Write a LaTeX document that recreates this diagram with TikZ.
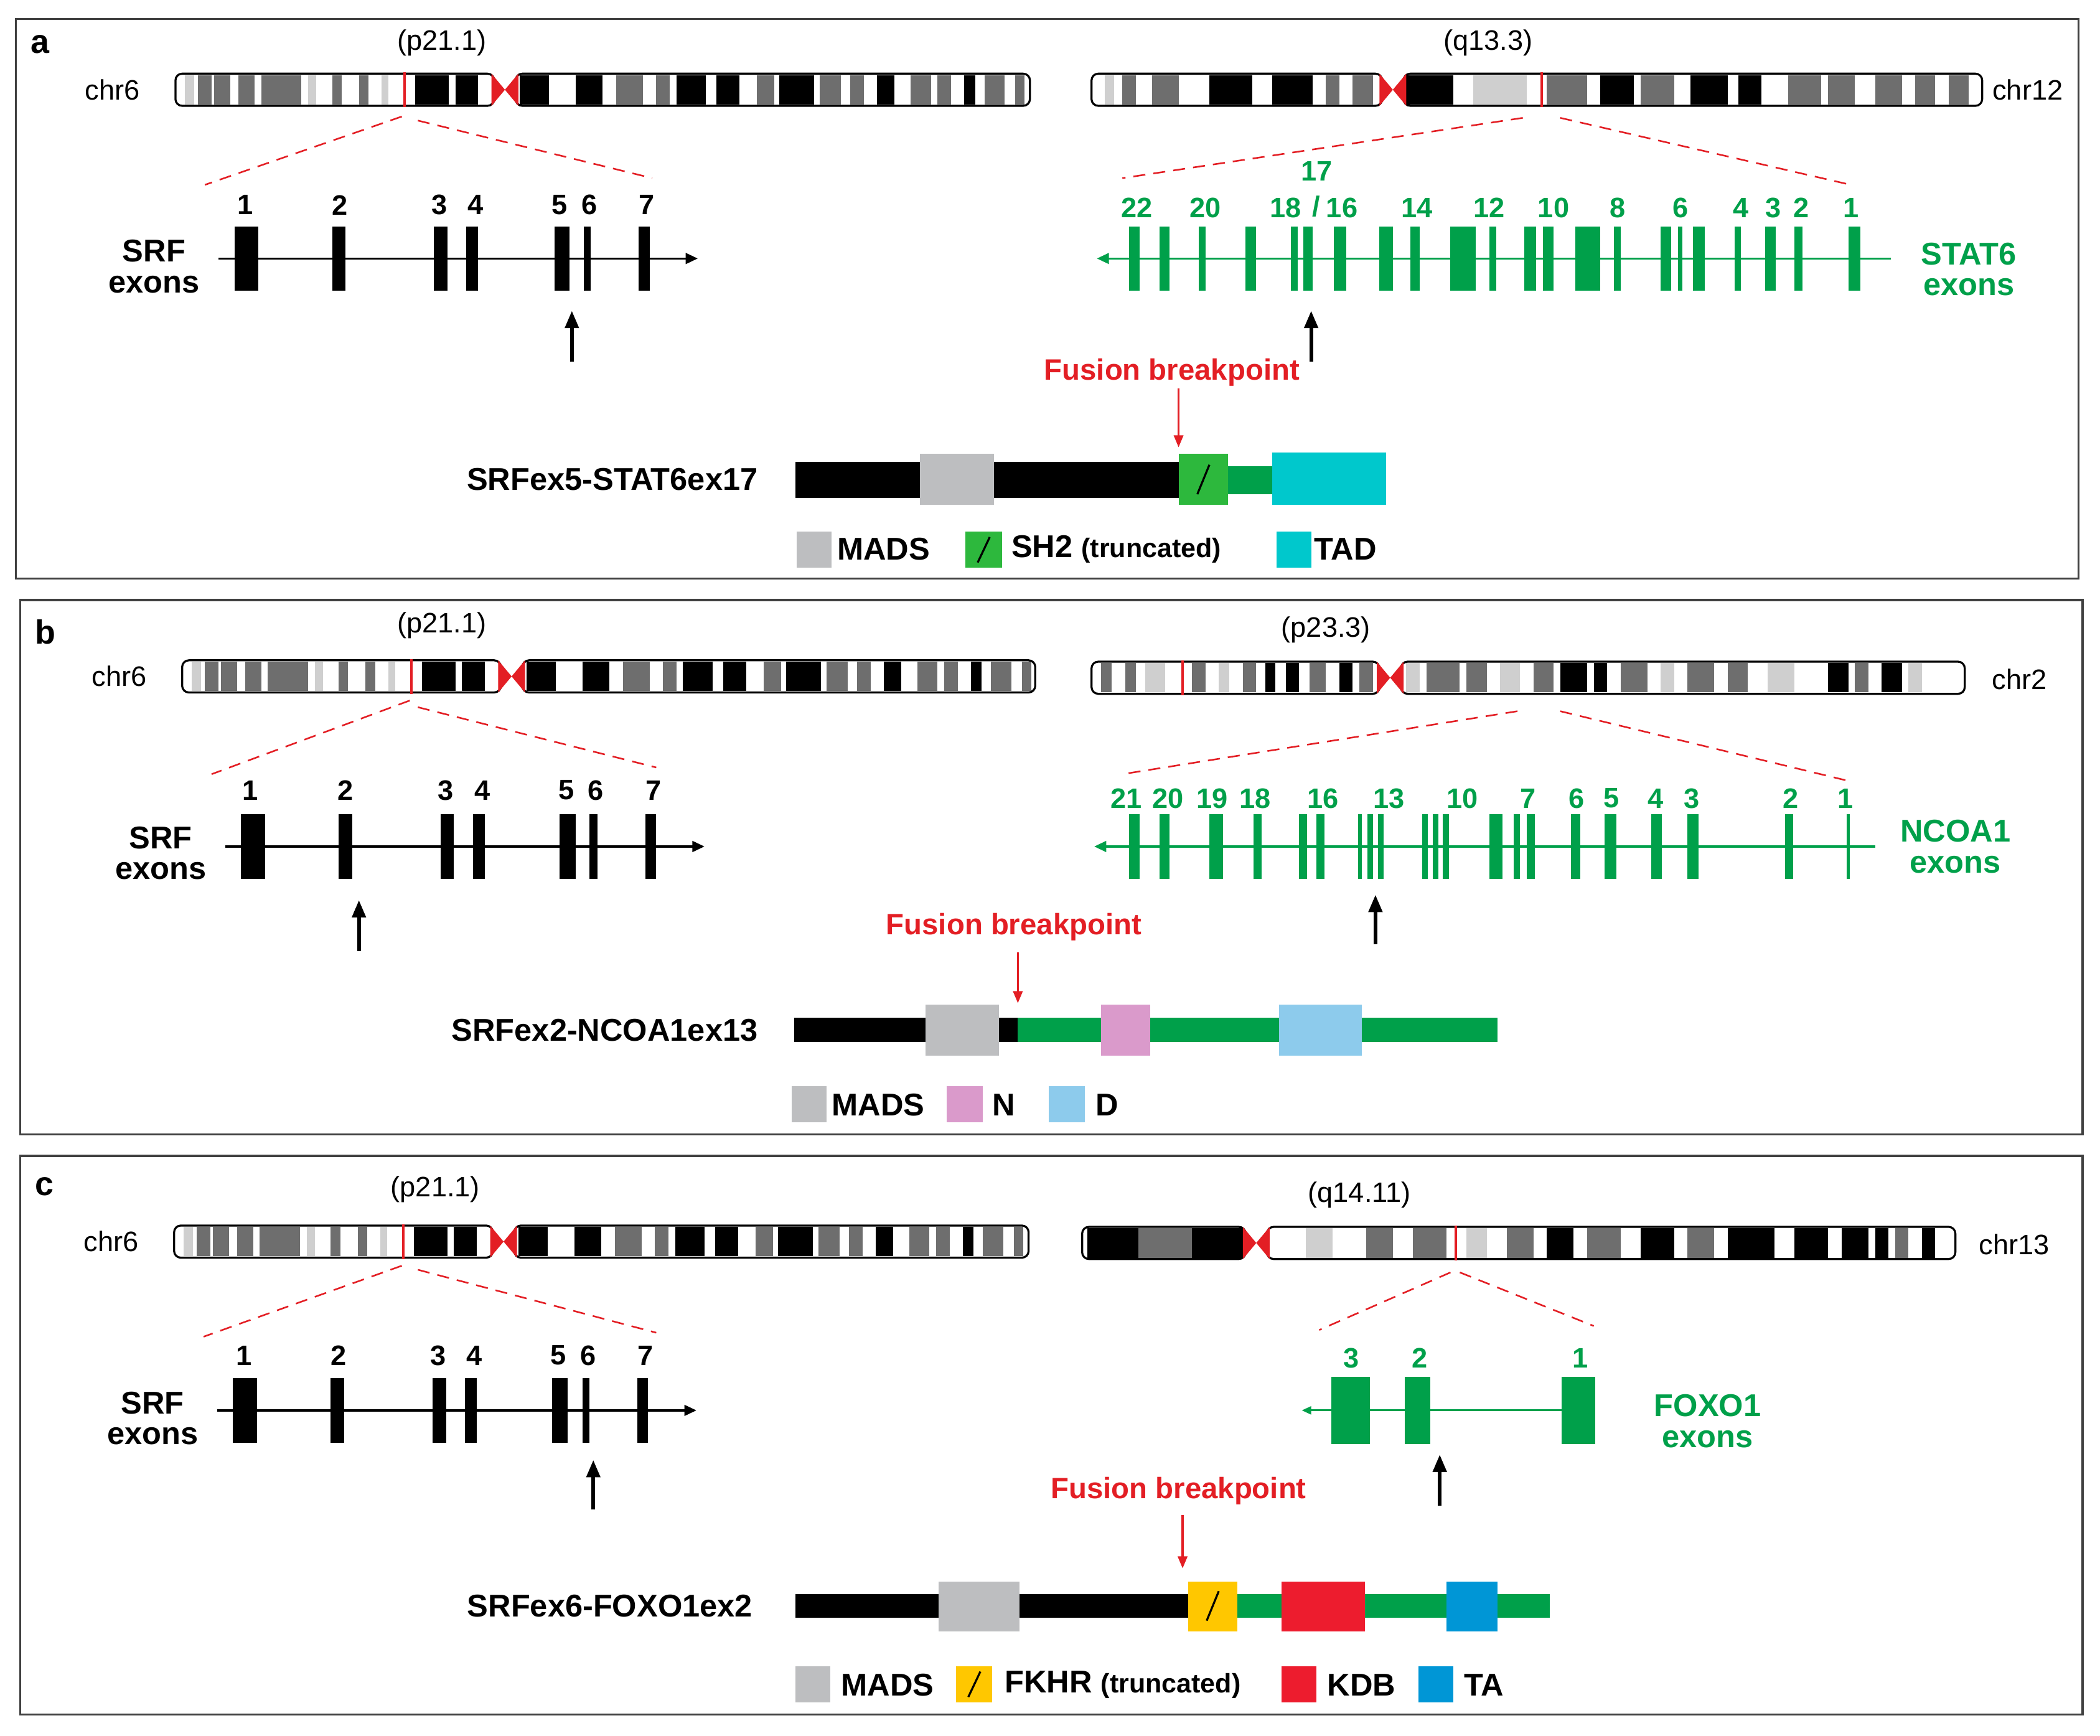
\documentclass[tikz,border=0pt]{standalone}
\usepackage{fontspec}
\setmainfont{Liberation Sans}
\usetikzlibrary{arrows.meta}
\definecolor{G}{HTML}{6E6E6E}
\definecolor{L}{HTML}{CFCFCF}
\definecolor{K}{HTML}{000000}
\definecolor{fgreen}{HTML}{00A04A}
\definecolor{fred}{HTML}{E31E24}
\definecolor{mads}{HTML}{BDBEC0}
\definecolor{sh2}{HTML}{2DB83D}
\definecolor{tad}{HTML}{00C8CC}
\definecolor{pinkN}{HTML}{DA9ACB}
\definecolor{blueD}{HTML}{8DCBEC}
\definecolor{yel}{HTML}{FFC700}
\definecolor{kdb}{HTML}{ED1C2E}
\definecolor{ta}{HTML}{0096D6}
\tikzset{
 lbl/.style={font=\bfseries\fontsize{23.5}{23}\selectfont,align=center,inner sep=0pt},
 num/.style={font=\bfseries\fontsize{21}{22}\selectfont,inner sep=0pt},
 chrl/.style={font=\fontsize{21}{22}\selectfont,inner sep=0pt},
 panel/.style={draw=black!75,line width=1.5pt},
 dsh/.style={draw=fred,line width=1.2pt,dash pattern=on 9pt off 6pt},
 up/.style={-{Triangle[length=13pt,width=10pt]},line width=2.8pt},
 rup/.style={-{Triangle[length=9pt,width=7pt]},line width=1.6pt,draw=fred},
 fb/.style={font=\bfseries\fontsize{22}{22}\selectfont,text=fred,inner sep=0pt},
}
\newcommand\chromo[7]{% x0 x1 yc cen bands shift mark
 \edef\bandlist{#5}%
 \begin{scope}[shift={(#6,0)}]\foreach \a/\b/\c in \bandlist{\fill[\c] (\a,#3-11) rectangle (\b,#3+11);}\end{scope}
 \draw[line width=1.5pt,rounded corners=5] (#1,#3-12) rectangle (#4-8,#3+12);
 \draw[line width=1.5pt,rounded corners=5] (#4+8,#3-12) rectangle (#2,#3+12);
 \fill[fred] (#4-10,#3-12)--(#4+10,#3+12)--(#4+10,#3-12)--(#4-10,#3+12)--cycle;
 \draw[fred,line width=1.8pt] (#7,#3-13)--(#7,#3+13);}
\newcommand\chrsix{7/14/L,17/27/G,29/41/G,47/59/G,64/94/G,99/105/L,117/124/G,137/144/G,154/159/L,179/204/K,209/226/K,257/279/K,299/319/K,329/349/G,359/369/G,374/396/K,404/421/K,434/447/G,451/477/K,481/497/G,504/514/G,524/537/K,549/564/G,569/579/G,589/597/K,604/619/G,627/634/G}
\newcommand\srf[3]{% x shift, yc, exon list
 \edef\exlist{#3}%
 \begin{scope}[shift={(#1,0)}]
 \draw[line width=1.6pt,-{Triangle[length=9pt,width=8pt]}] (163,#2)--(521,#2);
 \foreach \a/\b in \exlist{\fill (\a,#2-24) rectangle (\b,#2+24);}
 \end{scope}}
\newcommand\trunc{{\fontsize{20}{20}\selectfont(truncated)}}
\begin{document}
\begin{tikzpicture}[x=1pt,y=-1pt]
\useasboundingbox (0,0) rectangle (1568,1296);
\fill[white] (0,0) rectangle (1568,1296);
% ================= panel a
\draw[panel] (12,14) rectangle (1552,432);
\node[lbl,font=\bfseries\fontsize{25}{26}\selectfont] (pa) at (30,33) {a};
\node[chrl] (c6a) at (84,67) {chr6};
\node[chrl] (pa1) at (330,32) {(p21.1)};
\chromo{131}{769}{67}{377}{\chrsix}{131}{302}
\node[chrl] (pa2) at (1111,32) {(q13.3)};
\node[chrl] (c12) at (1514,67) {chr12};
\chromo{815}{1480}{67}{1040}{825/832/L,838/848/G,860/880/G,903/935/K,950/980/K,990/1000/G,1010/1025/G,1050/1085/K,1100/1140/L,1155/1185/G,1195/1220/K,1225/1250/G,1262/1290/K,1298/1315/K,1335/1360/G,1365/1385/G,1400/1420/G,1430/1445/G,1455/1470/G}{0}{1151}
\draw[dsh] (300,87)--(153,138); \draw[dsh] (312,90)--(487,133);
\draw[dsh] (1137,88)--(838,133); \draw[dsh] (1165,88)--(1382,138);
\srf{0}{193}{175/193,248/258,324/334,348/357,414/425,436/441,477/485}
\foreach \x/\t in {183/1,254/2,328/3,355/4,418/5,440/6,483/7} \node[num] at (\x,153) {\t};
\node[lbl] (srfa) at (115,199) {SRF\\exons};
\draw[up] (427,270)--(427,232);
\draw[fgreen,line width=1.6pt,-{Triangle[length=9pt,width=8pt]}] (1412,193)--(819,193);
\foreach \a/\b in {843/851,866/873,895/900,930/938,964/969,973/980,996/1005,1030/1040,1053/1060,1083/1102,1112/1117,1138/1147,1152/1160,1176/1195,1205/1210,1240/1248,1253/1256,1264/1273,1295/1300,1318/1326,1340/1346,1380/1389} \fill[fgreen] (\a,169) rectangle (\b,217);
\foreach \x/\t in {849/22,900/20,960/18,1002/16,1058/14,1112/12,1160/10,1208/8,1255/6,1300/4,1324/3,1345/2,1382/1} \node[num,text=fgreen] at (\x,155) {\t};
\node[num,text=fgreen] at (983,128) {17};
\node[num,text=fgreen] at (983,154) {/};
\node[lbl,text=fgreen] (stat) at (1470,201) {STAT6\\exons};
\draw[up] (979,270)--(979,232);
\node[fb] (fba) at (875,278) {Fusion breakpoint};
\draw[rup] (880,290)--(880,334);
\fill (594,345) rectangle (880,372);
\fill[mads] (687,339) rectangle (742,377);
\fill[fgreen] (880,348) rectangle (950,369);
\fill[sh2] (880,339) rectangle (917,377);
\draw[line width=1.5pt] (894,369)--(903,347);
\fill[tad] (950,338) rectangle (1035,377);
\node[lbl,anchor=east] (fa) at (566,358) {SRFex5-STAT6ex17};
\fill[mads] (595,397) rectangle (621,424); \node[lbl,anchor=west] at (625,410) {MADS};
\fill[sh2] (721,397) rectangle (748,424); \draw[line width=1.5pt] (730,420)--(739,401);
\node[lbl,anchor=west] at (755,410) {SH2 \trunc};
\fill[tad] (953,397) rectangle (979,424); \node[lbl,anchor=west] at (981,410) {TAD};
% ================= panel b
\draw[panel] (15,448) rectangle (1555,847);
\node[lbl,font=\bfseries\fontsize{25}{26}\selectfont] (pb) at (34,472) {b};
\node[chrl] (c6b) at (89,505) {chr6};
\node[chrl] at (330,467) {(p21.1)};
\chromo{136}{773}{505}{382}{\chrsix}{136}{307}
\node[chrl] at (990,470) {(p23.3)};
\node[chrl] (c2) at (1508,507) {chr2};
\chromo{815}{1467}{506}{1038}{822/830/G,840/848/G,855/870/L,890/900/G,910/918/L,928/938/G,945/952/K,960/970/K,978/990/G,1000/1010/K,1015/1025/G,1050/1060/L,1065/1090/G,1095/1110/G,1120/1135/L,1145/1160/G,1165/1185/K,1190/1200/K,1210/1230/G,1240/1250/L,1260/1280/G,1290/1305/G,1320/1340/L,1365/1380/K,1385/1395/G,1405/1420/K,1425/1435/L}{0}{883}
\draw[dsh] (306,523)--(158,578); \draw[dsh] (312,528)--(490,573);
\draw[dsh] (1133,531)--(838,578); \draw[dsh] (1165,531)--(1380,583);
\srf{5}{632}{175/193,248/258,324/334,348/357,413/425,435/441,477/485}
\foreach \x/\t in {187/1,258/2,333/3,360/4,423/5,445/6,488/7} \node[num] at (\x,590) {\t};
\node[lbl] (srfb) at (120,637) {SRF\\exons};
\draw[up] (268,710)--(268,672);
\draw[fgreen,line width=1.6pt,-{Triangle[length=9pt,width=8pt]}] (1400,632)--(817,632);
\foreach \a/\b in {843/851,866/873,903/913,936/942,970/976,983/989,1014/1017,1021/1025,1029/1033,1062/1066,1070/1074,1077/1082,1112/1122,1130/1135,1140/1146,1173/1180,1198/1207,1233/1241,1260/1268,1333/1339,1379/1381} \fill[fgreen] (\a,608) rectangle (\b,656);
\foreach \x/\t in {841/21,872/20,905/19,937/18,988/16,1037/13,1092/10,1141/7,1177/6,1203/5,1236/4,1263/3,1337/2,1378/1} \node[num,text=fgreen] at (\x,596) {\t};
\node[lbl,text=fgreen] (ncoa) at (1460,632) {NCOA1\\exons};
\draw[up] (1027,705)--(1027,668);
\node[fb] (fbb) at (757,692) {Fusion breakpoint};
\draw[rup] (760,711)--(760,749);
\fill (593,760) rectangle (760,778);
\fill[fgreen] (760,760) rectangle (1118,778);
\fill[mads] (691,750) rectangle (746,788);
\fill[pinkN] (822,750) rectangle (859,788);
\fill[blueD] (955,750) rectangle (1017,788);
\node[lbl,anchor=east] (fb2) at (566,769) {SRFex2-NCOA1ex13};
\fill[mads] (591,811) rectangle (617,838); \node[lbl,anchor=west] at (621,825) {MADS};
\fill[pinkN] (707,811) rectangle (734,838); \node[lbl,anchor=west] at (741,825) {N};
\fill[blueD] (783,811) rectangle (810,838); \node[lbl,anchor=west] at (818,825) {D};
% ================= panel c
\draw[panel] (15,863) rectangle (1555,1280);
\node[lbl,font=\bfseries\fontsize{25}{26}\selectfont] (pc) at (33,886) {c};
\node[chrl] (c6c) at (83,927) {chr6};
\node[chrl] at (325,888) {(p21.1)};
\chromo{130}{768}{927}{376}{\chrsix}{130}{301}
\node[chrl] at (1015,892) {(q14.11)};
\node[chrl] (c13) at (1504,929) {chr13};
\chromo{808}{1460}{928}{938}{812/850/K,850/890/G,890/928/K,975/995/L,1020/1040/G,1055/1080/G,1095/1110/L,1125/1145/G,1155/1175/K,1185/1210/G,1225/1250/K,1260/1280/G,1290/1325/K,1340/1365/K,1375/1395/K,1400/1410/K,1415/1425/G,1435/1445/K}{0}{1087}
\draw[dsh] (300,945)--(152,998); \draw[dsh] (312,948)--(490,995);
\draw[dsh] (1083,950)--(985,993); \draw[dsh] (1090,950)--(1190,990);
\srf{-1}{1053}{175/193,248/258,324/334,348/357,413/425,436/441,477/485}
\foreach \x/\t in {182/1,253/2,327/3,354/4,417/5,439/6,482/7} \node[num] at (\x,1012) {\t};
\node[lbl] (srfc) at (114,1059) {SRF\\exons};
\draw[up] (443,1127)--(443,1090);
\draw[fgreen,line width=1.3pt,-{Triangle[length=7pt,width=6pt]}] (1190,1053)--(972,1053);
\foreach \a/\b in {994/1023,1049/1068,1166/1191} \fill[fgreen] (\a,1028) rectangle (\b,1078);
\foreach \x/\t in {1009/3,1060/2,1180/1} \node[num,text=fgreen] at (\x,1014) {\t};
\node[lbl,text=fgreen] (foxo) at (1275,1061) {FOXO1\\exons};
\draw[up] (1075,1124)--(1075,1086);
\node[fb] (fbc) at (880,1113) {Fusion breakpoint};
\draw[rup] (883,1131)--(883,1171);
\fill (594,1190) rectangle (887,1208);
\fill[fgreen] (887,1190) rectangle (1157,1208);
\fill[mads] (701,1181) rectangle (761,1218);
\fill[yel] (887,1181) rectangle (924,1218); \draw[line width=1.5pt] (901,1210)--(910,1188);
\fill[kdb] (957,1181) rectangle (1019,1218);
\fill[ta] (1080,1181) rectangle (1118,1218);
\node[lbl,anchor=east] (fc) at (562,1199) {SRFex6-FOXO1ex2};
\fill[mads] (594,1244) rectangle (620,1271); \node[lbl,anchor=west] at (628,1258) {MADS};
\fill[yel] (714,1244) rectangle (741,1271); \draw[line width=1.5pt] (723,1267)--(732,1248);
\node[lbl,anchor=west] at (750,1258) {FKHR \trunc};
\fill[kdb] (957,1244) rectangle (983,1271); \node[lbl,anchor=west] at (991,1258) {KDB};
\fill[ta] (1059,1244) rectangle (1085,1271); \node[lbl,anchor=west] at (1093,1258) {TA};
\end{tikzpicture}
\end{document}
